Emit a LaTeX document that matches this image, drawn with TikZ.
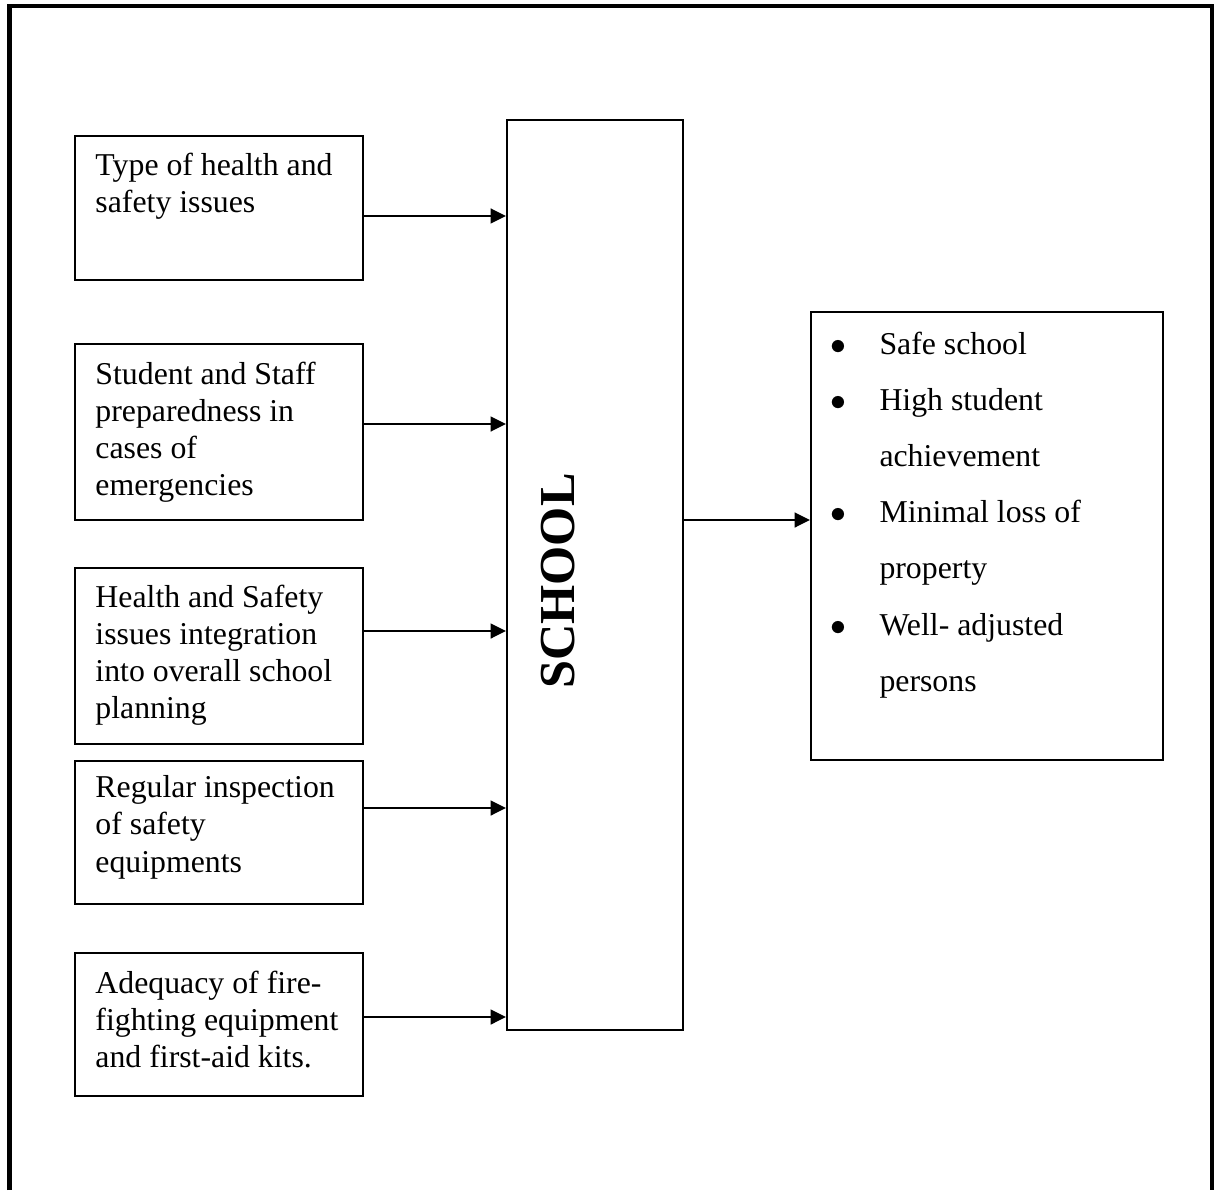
\documentclass[tikz,border=0pt]{standalone}
\usepackage{fontspec}
\setmainfont{Liberation Serif}
\usetikzlibrary{arrows.meta,positioning}
\def\px{0.3774pt}
\newcommand\outbullet{\makebox[18.5pt][l]{$\bullet$}}
\newcommand\outindent{\hspace*{18.5pt}}
\tikzset{
  factorbox/.style={draw=black,line width=0.8pt,minimum width=288*\px,inner sep=0pt},
  factortext/.style={anchor=north west,align=left,inner sep=0pt,
                     font=\fontsize{12}{14}\selectfont},
  schoolbox/.style={draw=black,line width=0.8pt,minimum width=176*\px,
                    minimum height=910*\px,inner sep=0pt},
  outbox/.style={draw=black,line width=0.8pt,minimum width=352*\px,
                 minimum height=448*\px,inner sep=0pt},
  outtext/.style={anchor=north west,align=left,inner sep=0pt,
                  font=\fontsize{12}{21.2}\selectfont},
  flowarr/.style={-{Triangle[length=5.8pt,width=5.6pt]},line width=0.8pt}
}

\begin{document}
\begin{tikzpicture}[x=\px,y=-\px]
  \useasboundingbox (0,0) rectangle (1217,1190);
  % open frame round the figure
  \draw[line width=1.6pt] (9.5,1190) -- (9.5,5.7) -- (1212,5.7) -- (1212,1190);

  % factors on the left
  \node[factorbox,minimum height=144*\px] (f1) at (219,208) {};
  \node[factorbox,minimum height=176*\px] (f2) at (219,432) {};
  \node[factorbox,minimum height=176*\px] (f3) at (219,656) {};
  \node[factorbox,minimum height=143*\px] (f4) at (219,832.5) {};
  \node[factorbox,minimum height=143*\px] (f5) at (219,1024.5) {};

  \node[factortext] (t1) at ([shift={(21,17.3)}]f1.north west)
    {Type of health and\\safety issues};
  \node[factortext] (t2) at ([shift={(21,18.3)}]f2.north west)
    {Student and Staff\\preparedness in\\cases of\\emergencies};
  \node[factortext] (t3) at ([shift={(21,17.3)}]f3.north west)
    {Health and Safety\\issues integration\\into overall school\\planning};
  \node[factortext] (t4) at ([shift={(21,15.3)}]f4.north west)
    {Regular inspection\\of safety\\equipments};
  \node[factortext] (t5) at ([shift={(21,18.3)}]f5.north west)
    {Adequacy of fire-\\fighting equipment\\and first-aid kits.};

  % school
  \node[schoolbox] (school) at (595,575) {};
  \node[font=\fontsize{19}{22}\selectfont\bfseries,rotate=90] (schoollabel)
    at (558,581) {SCHOOL};

  % outcomes
  \node[outbox] (outcome) at (987,536) {};
  \node[outtext] (outlist) at ([shift={(20,20.3)}]outcome.north west)
    {\outbullet Safe school\\
     \outbullet High student\\
     \outindent achievement\\
     \outbullet Minimal loss of\\
     \outindent property\\
     \outbullet Well- adjusted\\
     \outindent persons};

  \foreach \n/\y in {f1/216,f2/424,f3/631,f4/808,f5/1017} {
    \draw[flowarr] (\n.east |- 0,\y) -- (school.west |- 0,\y);
  }
  \draw[flowarr] (school.east |- 0,520) -- (outcome.west |- 0,520);
\end{tikzpicture}
\end{document}
